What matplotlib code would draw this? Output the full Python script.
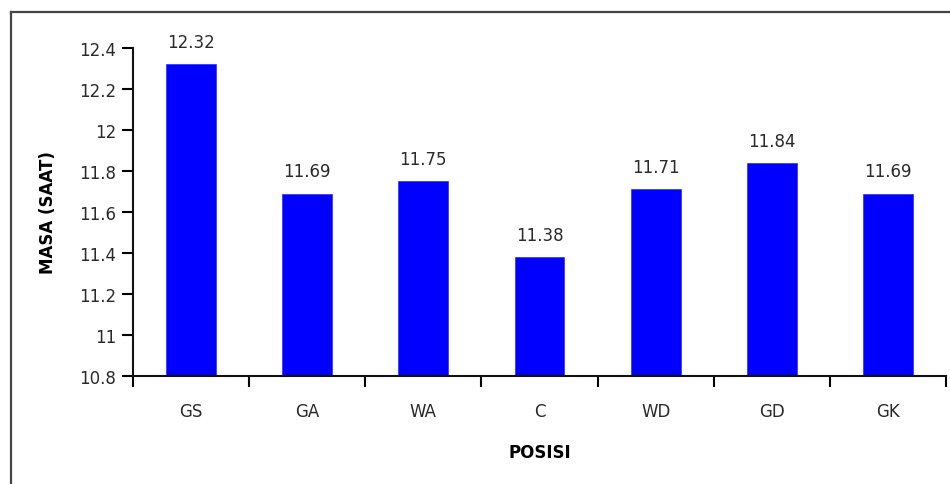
import matplotlib
matplotlib.use("Agg")
import matplotlib.pyplot as plt
from matplotlib.lines import Line2D

categories = ["GS", "GA", "WA", "C", "WD", "GD", "GK"]
values = [12.32, 11.69, 11.75, 11.38, 11.71, 11.84, 11.69]
yticks = [10.8, 11.0, 11.2, 11.4, 11.6, 11.8, 12.0, 12.2, 12.4]
ytick_labels = ["10.8", "11", "11.2", "11.4", "11.6", "11.8", "12", "12.2", "12.4"]

plt.rcParams['font.family'] = ['DejaVu Sans']

fig = plt.figure(figsize=(9.5, 4.85), dpi=100)
ax = fig.add_axes([133/950, 1 - 377/485, (946 - 133)/950, (377 - 49)/485])

x = list(range(len(categories)))
ax.bar(x, values, width=0.43, bottom=0, color="#0000FF", edgecolor="#3a3aff", linewidth=0.6, zorder=2)
ax.set_xlim(-0.5, len(categories) - 0.5)
ax.set_ylim(10.8, 12.4)
ax.set_yticks(yticks)
ax.set_yticklabels(ytick_labels)
ax.set_xticks(x)
ax.set_xticklabels(categories)
ax.tick_params(axis='x', length=0, pad=18.5, labelsize=12, labelcolor="#2a2a2a")
ax.tick_params(axis='y', length=8, width=1.5, direction='out', labelsize=12, labelcolor="#2a2a2a", pad=4)
# category boundary ticks
ax.set_xticks([i - 0.5 for i in range(len(categories) + 1)], minor=True)
ax.tick_params(axis='x', which='minor', length=8, width=1.5, direction='out')

for s in ["top", "right"]:
    ax.spines[s].set_visible(False)
for s in ["left", "bottom"]:
    ax.spines[s].set_linewidth(1.5)
    ax.spines[s].set_color("#111111")

for xi, v in zip(x, values):
    ax.annotate(f"{v:.2f}", (xi, v), xytext=(0, 9.5), textcoords="offset points",
                ha="center", va="bottom", fontsize=12, color="#2a2a2a")

ax.set_ylabel("MASA (SAAT)", fontsize=12, fontweight="bold", labelpad=16)
ax.set_xlabel("POSISI", fontsize=12, fontweight="bold", labelpad=17)

# outer frame (left and top lines)
fig.add_artist(Line2D([11/950, 11/950], [0, 1 - 13/485], transform=fig.transFigure, color="#444444", linewidth=1.6))
fig.add_artist(Line2D([11/950, 1], [1 - 13/485, 1 - 13/485], transform=fig.transFigure, color="#444444", linewidth=1.6))

fig.savefig("out.png", dpi=100)
